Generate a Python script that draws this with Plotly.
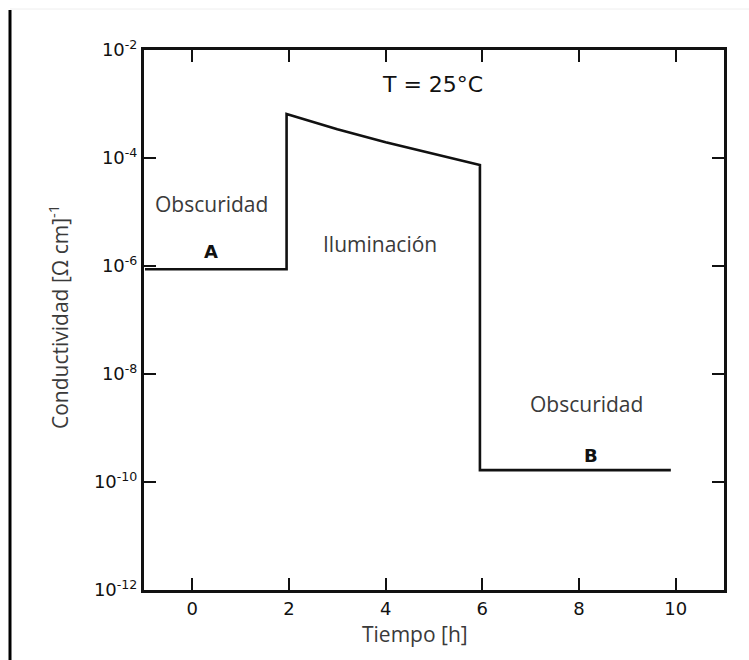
import plotly.graph_objects as go

# Conductivity of the sample over time: dark (A), illuminated, dark again (B)
tiempo_h = [-0.98, 1.95, 1.95, 3.0, 4.0, 5.0, 5.95, 5.95, 9.9]
conductividad = [8.7e-7, 8.7e-7, 6.5e-4, 3.4e-4, 1.95e-4, 1.17e-4, 7.4e-5, 1.66e-10, 1.66e-10]

x_ticks = [0, 2, 4, 6, 8, 10]
y_exponents = [-2, -4, -6, -8, -10, -12]
y_ticks = [10.0 ** e for e in y_exponents]
y_ticktext = [f"10<sup>{e}</sup>" for e in y_exponents]

label_font = dict(family="Open Sans, Liberation Sans, sans-serif", size=21, color="#3a3a3a")
tick_font = dict(family="DejaVu Sans, sans-serif", size=18, color="#111111")
mark_font = dict(family="DejaVu Sans, sans-serif", size=18, color="#111111")

fig = go.Figure()
fig.add_trace(go.Scatter(
    x=tiempo_h, y=conductividad, mode="lines",
    line=dict(color="#111111", width=2.6),
    hoverinfo="skip", showlegend=False,
))

axis_common = dict(
    showline=True, linecolor="#111111", linewidth=3,
    mirror="ticks", ticks="inside", ticklen=12, tickwidth=2,
    tickcolor="#111111", showgrid=False, zeroline=False,
    tickfont=tick_font,
)

fig.update_xaxes(range=[-1, 11], tickvals=x_ticks, ticktext=[str(v) for v in x_ticks], **axis_common)
fig.update_yaxes(type="log", range=[-12, -2], tickvals=y_ticks, ticktext=y_ticktext, **axis_common)

annotations = [
    dict(x=0.39, y=-4.85, text="Obscuridad", font=label_font),
    dict(x=0.39, y=-5.74, text="<b>A</b>", font=mark_font),
    dict(x=3.88, y=-5.59, text="Iluminación", font=label_font),
    dict(x=4.97, y=-2.63, text="T = 25°C", font=dict(family="DejaVu Sans, sans-serif", size=22, color="#111111")),
    dict(x=8.16, y=-8.56, text="Obscuridad", font=label_font),
    dict(x=8.25, y=-9.5, text="<b>B</b>", font=mark_font),
]
for a in annotations:
    a.update(xref="x", yref="y", showarrow=False, xanchor="center", yanchor="middle")

# Axis titles
annotations.append(dict(
    xref="paper", yref="paper", x=(58 - 144) / 580, y=(590 - 317) / 540,
    text="Conductividad [Ω cm]<sup>-1</sup>", textangle=-90, showarrow=False,
    xanchor="center", yanchor="middle", font=label_font,
))
annotations.append(dict(
    xref="paper", yref="paper", x=(415 - 144) / 580, y=-(634 - 590) / 540,
    text="Tiempo [h]", showarrow=False,
    xanchor="center", yanchor="middle", font=label_font,
))

fig.update_layout(
    width=749, height=660,
    margin=dict(l=144, r=25, t=50, b=70),
    paper_bgcolor="white", plot_bgcolor="white",
    annotations=annotations,
    shapes=[
        dict(type="line", xref="paper", yref="paper",
             x0=(10 - 144) / 580, x1=(10 - 144) / 580,
             y0=(590 - 10) / 540, y1=(590 - 662) / 540,
             line=dict(color="#000000", width=3)),
        dict(type="line", xref="paper", yref="paper",
             x0=(10 - 144) / 580, x1=(749 - 144) / 580,
             y0=(590 - 9) / 540, y1=(590 - 9) / 540,
             line=dict(color="#eeeeee", width=1)),
    ],
)

fig.write_html("out.html")
